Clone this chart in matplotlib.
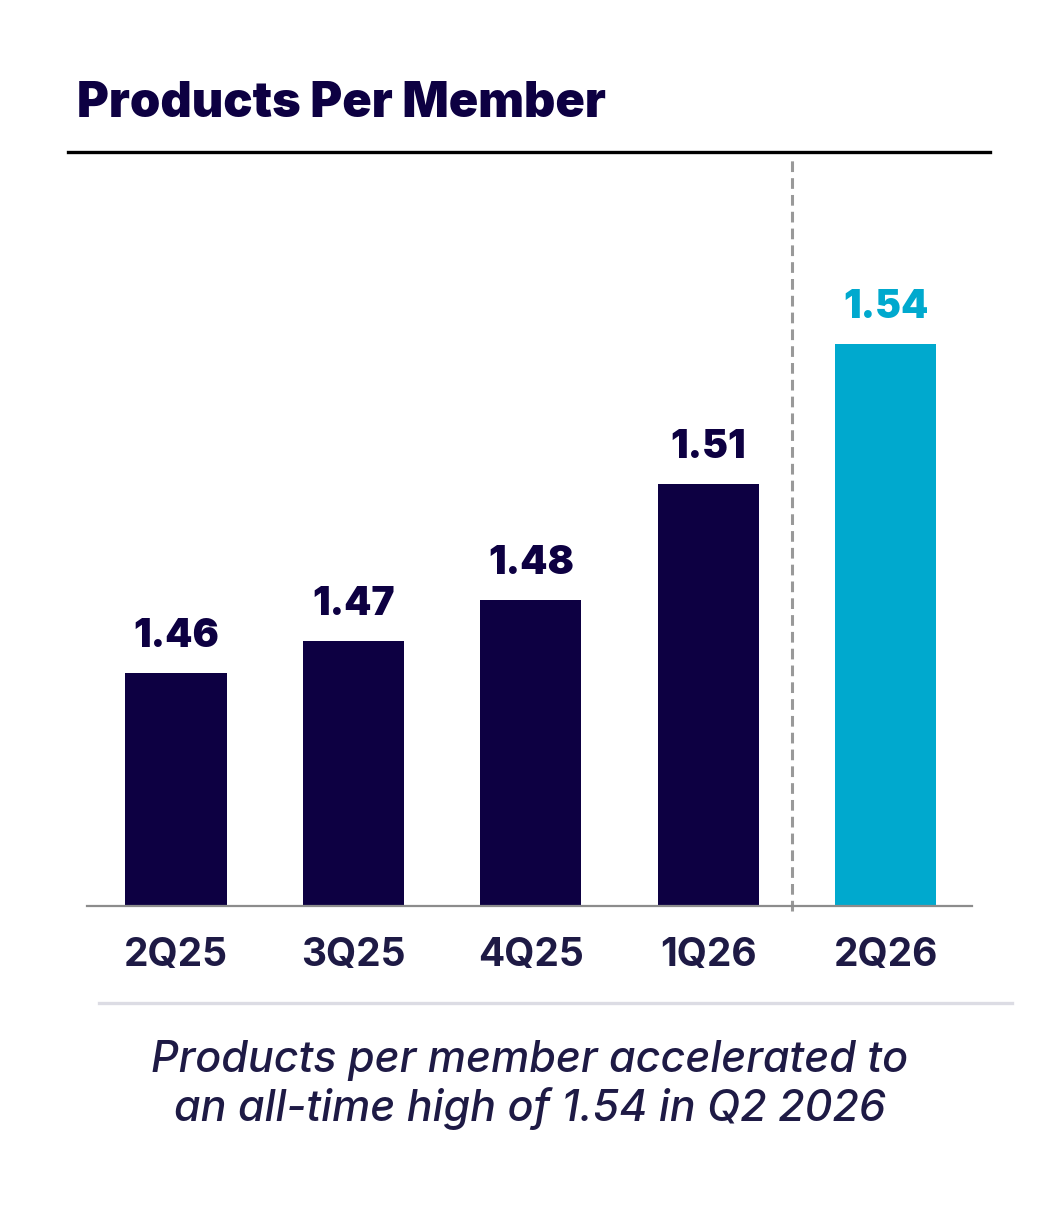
import matplotlib
matplotlib.use('Agg')
import matplotlib.pyplot as plt
from matplotlib.lines import Line2D

plt.rcParams['font.family'] = ['Inter', 'DejaVu Sans']

# data (bar heights estimated, labels rounded to 2 places)
QUARTERS = ['2Q25', '3Q25', '4Q25', '1Q26', '2Q26']
PPM = [1.464, 1.471, 1.480, 1.5054, 1.536]
COLORS = ['#0d0042', '#0d0042', '#0d0042', '#0d0042', '#00a9ce']

NAVY = '#0d0042'
TEXT = '#1e1a45'

W, H = 1064, 1206
fig = plt.figure(figsize=(W / 100, H / 100), dpi=100)

ax = fig.add_axes([87 / W, (H - 906) / H, (972 - 87) / W, (906 - 155) / H])
ax.bar(range(len(PPM)), PPM, width=0.57, color=COLORS, zorder=2)
ax.set_xlim(-0.502, 4.487)
ax.set_ylim(1.413, 1.5774)

for i, v in enumerate(PPM):
    ax.annotate('%.2f' % v, (i, v), xytext=(0, 13), textcoords='offset points',
                ha='center', va='bottom', fontsize=28, fontweight='black',
                color=COLORS[i])

# spines / ticks
for s in ['top', 'right', 'left']:
    ax.spines[s].set_visible(False)
ax.spines['bottom'].set_color('#8c8c8c')
ax.spines['bottom'].set_linewidth(1.6)
ax.set_yticks([])
ax.set_xticks(range(len(QUARTERS)))
ax.set_xticklabels(QUARTERS, fontsize=28, fontweight='bold', color=TEXT)
ax.tick_params(axis='x', length=0, pad=22)

# dashed separator before the latest quarter
ax.axvline(3.47, ymin=-0.006, ymax=1.0, color='#999999', lw=2.2,
           dashes=(3.5, 2), clip_on=False, zorder=1)

# title and rules
fig.text(77 / W, 1 - 104 / H, 'Products Per Member', fontsize=35,
         fontweight='black', color=NAVY, va='center', ha='left')
fig.add_artist(Line2D([68 / W, 990 / W], [1 - 152 / H] * 2, color='black', lw=2.4))
fig.add_artist(Line2D([99 / W, 1012 / W], [1 - 1003 / H] * 2, color='#dcdce4', lw=2.4))

# footnote
fig.text(530 / W, 1 - 1085 / H,
         'Products per member accelerated to\nan all-time high of 1.54 in Q2 2026',
         fontsize=31, fontstyle='italic', fontweight='medium', color=TEXT,
         ha='center', va='center', linespacing=1.2)

fig.savefig('out.png', dpi=100, facecolor='white')
